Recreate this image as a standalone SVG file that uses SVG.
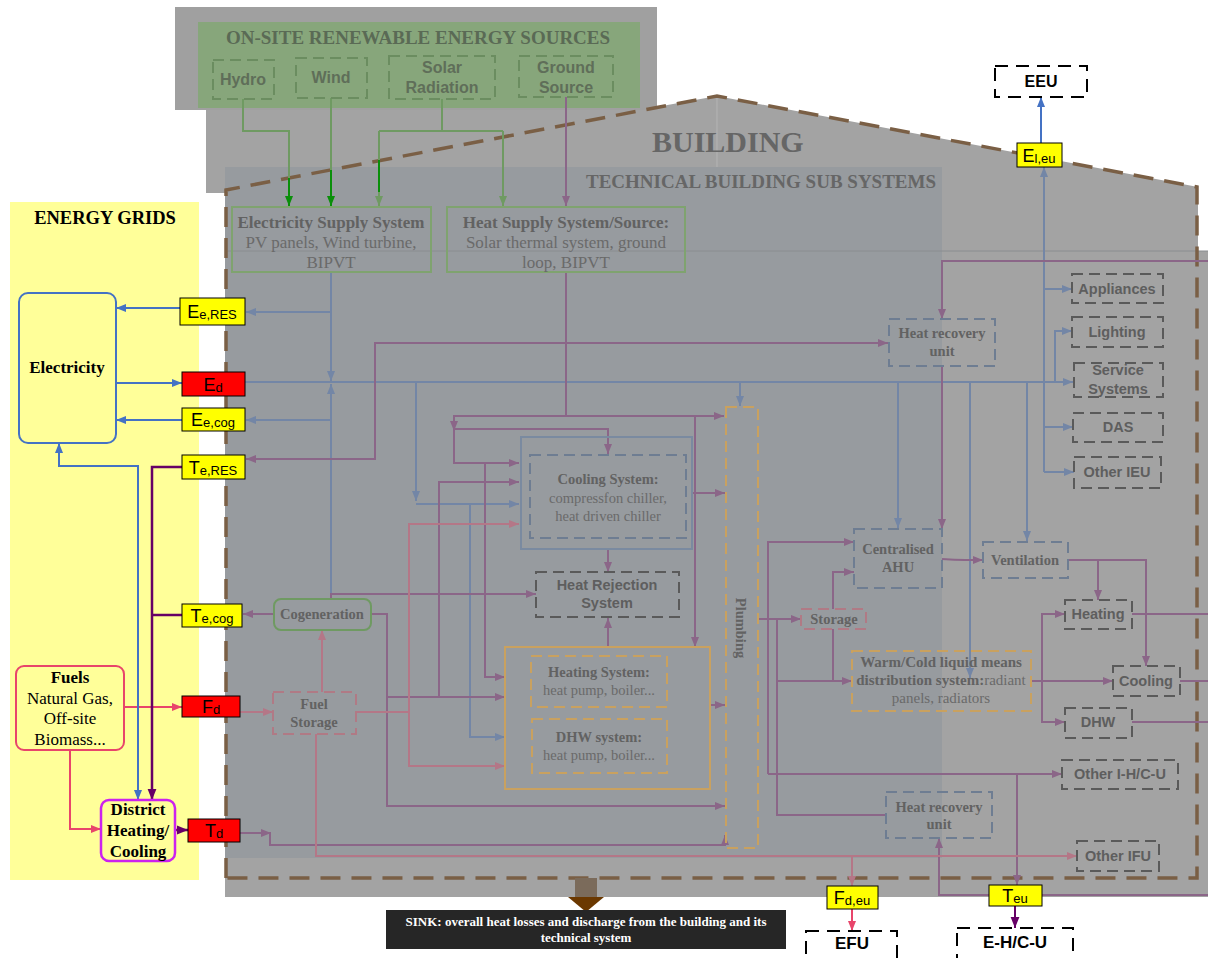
<svg xmlns="http://www.w3.org/2000/svg" width="1208" height="958" viewBox="0 0 1208 958">
<defs>
<style>
.c path{fill:none;stroke-width:2}
.b{stroke:#7386a6}.p{stroke:#8b6688}.k{stroke:#b47787}.g{stroke:#6f9a62}
.bb{stroke:#4472c4}.pd{stroke:#660066}.kb{stroke:#e8456b}.gb{stroke:#0a8f0a}
.sf{font-family:"Liberation Serif","Times New Roman",serif}
.ss{font-family:"Liberation Sans",Arial,sans-serif}
.t{fill:#626262;font-weight:bold;font-size:14.5px;text-anchor:middle;font-family:"Liberation Serif","Times New Roman",serif}
.tr{fill:#6a6a6a;font-size:14.5px;text-anchor:middle;font-family:"Liberation Serif","Times New Roman",serif}
.ts{fill:#5e5e5e;font-weight:bold;font-size:14.5px;text-anchor:middle;font-family:"Liberation Sans",Arial,sans-serif}
.tg{fill:#5f6e59;font-weight:bold;font-size:16px;text-anchor:middle;font-family:"Liberation Sans",Arial,sans-serif}
.dg{fill:none;stroke:#5a5a5a;stroke-width:2;stroke-dasharray:11,6}
.dbl{fill:none;stroke:#6e7d92;stroke-width:2;stroke-dasharray:11,6}
.dor{fill:none;stroke:#c9a15f;stroke-width:2;stroke-dasharray:11,6}
.dpk{fill:none;stroke:#b07a85;stroke-width:2;stroke-dasharray:11,6}
.dgr{fill:none;stroke:#6b8d60;stroke-width:2;stroke-dasharray:11,6}
.dk{fill:none;stroke:#000;stroke-width:2;stroke-dasharray:13,8}
.lab{font-family:"Liberation Sans",Arial,sans-serif;font-size:18px;fill:#000;text-anchor:middle}
.ly{fill:#ffff00;stroke:#000;stroke-width:1}
.lr{fill:#ff0000;stroke:#000;stroke-width:1}
.tk{fill:#000;font-weight:bold;font-size:17px;text-anchor:middle;font-family:"Liberation Serif","Times New Roman",serif}
.tkr{fill:#000;font-size:17px;text-anchor:middle;font-family:"Liberation Serif","Times New Roman",serif}
.tks{fill:#000;font-weight:bold;font-size:17px;text-anchor:middle;font-family:"Liberation Sans",Arial,sans-serif}
.f17{font-size:17px}
.f15{font-size:15px}
</style>
<marker id="aB" viewBox="0 0 10 10" refX="10" refY="5" markerWidth="10" markerHeight="10" markerUnits="userSpaceOnUse" orient="auto-start-reverse"><path d="M0,1L10,5L0,9z" fill="#7386a6"/></marker>
<marker id="aP" viewBox="0 0 10 10" refX="10" refY="5" markerWidth="10" markerHeight="10" markerUnits="userSpaceOnUse" orient="auto-start-reverse"><path d="M0,1L10,5L0,9z" fill="#8b6688"/></marker>
<marker id="aK" viewBox="0 0 10 10" refX="10" refY="5" markerWidth="10" markerHeight="10" markerUnits="userSpaceOnUse" orient="auto-start-reverse"><path d="M0,1L10,5L0,9z" fill="#b47787"/></marker>
<marker id="aG" viewBox="0 0 10 10" refX="10" refY="5" markerWidth="10" markerHeight="10" markerUnits="userSpaceOnUse" orient="auto-start-reverse"><path d="M0,1L10,5L0,9z" fill="#6f9a62"/></marker>
<marker id="aBB" viewBox="0 0 10 10" refX="10" refY="5" markerWidth="10" markerHeight="10" markerUnits="userSpaceOnUse" orient="auto-start-reverse"><path d="M0,1L10,5L0,9z" fill="#4472c4"/></marker>
<marker id="aPD" viewBox="0 0 10 10" refX="10" refY="5" markerWidth="11" markerHeight="11" markerUnits="userSpaceOnUse" orient="auto-start-reverse"><path d="M0,1L10,5L0,9z" fill="#660066"/></marker>
<marker id="aKB" viewBox="0 0 10 10" refX="10" refY="5" markerWidth="10" markerHeight="10" markerUnits="userSpaceOnUse" orient="auto-start-reverse"><path d="M0,1L10,5L0,9z" fill="#e8456b"/></marker>
<marker id="aGB" viewBox="0 0 10 10" refX="10" refY="5" markerWidth="10" markerHeight="10" markerUnits="userSpaceOnUse" orient="auto-start-reverse"><path d="M0,1L10,5L0,9z" fill="#0a8f0a"/></marker>
</defs>

<g id="background">
<rect x="0" y="0" width="1208" height="958" fill="#ffffff"/>
<rect x="10" y="202" width="189" height="678" fill="#ffff99"/>
<polygon points="206,110 640,110 717,96 1198,187 1198,251 1208,251 1208,897 225,897 225,193 206,193" fill="#a3a3a3"/>
<rect x="175" y="7" width="482" height="103" fill="#a0a0a0"/>
<rect x="198" y="22" width="442" height="86" fill="#87a67b"/>
<rect x="225" y="167" width="717" height="691" fill="#979b9f"/>
<line x1="225" y1="251" x2="1208" y2="251" stroke="#8a8d90" stroke-width="1"/>
<line x1="717" y1="97" x2="717" y2="167" stroke="#b4b4b4" stroke-width="1"/>
<path d="M226,878 V190 L717,96 L1197,187 V878 Z" fill="none" stroke="#7a5f45" stroke-width="3.5" stroke-dasharray="20,11"/>
<text x="418" y="44" class="sf" font-size="19" font-weight="bold" fill="#5a6a55" text-anchor="middle">ON-SITE RENEWABLE ENERGY SOURCES</text>
<text x="652" y="152" class="sf" font-size="30" font-weight="bold" fill="#666666">BUILDING</text>
<text x="586" y="188" class="sf" font-size="19" font-weight="bold" fill="#666666">TECHNICAL BUILDING SUB SYSTEMS</text>
<text x="105" y="224" class="sf" font-size="18.5" font-weight="bold" fill="#000" text-anchor="middle">ENERGY GRIDS</text>
</g>

<g id="connectors" class="c">
<path class="g" d="M243,99 V131 H289 V178"/>
<path class="gb" d="M289,178 V206" marker-end="url(#aGB)"/>
<path class="g" d="M331,98 V170"/>
<path class="gb" d="M331,170 V206" marker-end="url(#aGB)"/>
<path class="g" d="M442,99 V131 M379,131 H503"/>
<path class="g" d="M379,131 V206" marker-end="url(#aG)"/>
<path class="gb" d="M379,160 V192"/>
<path class="g" d="M503,131 V206" marker-end="url(#aG)"/>
<path class="p" d="M566,97 V206" marker-end="url(#aP)"/>
<path class="b" d="M331,272 V381" marker-end="url(#aB)"/>
<path class="b" d="M331,312 H246" marker-end="url(#aB)"/>
<path class="b" d="M331,599 V384" marker-end="url(#aB)"/>
<path class="b" d="M331,420 H246" marker-end="url(#aB)"/>
<path class="b" d="M245,382 H1073" marker-end="url(#aB)"/>
<path class="b" d="M416,382 V501" marker-end="url(#aB)"/>
<path class="b" d="M416,504 H519" marker-end="url(#aB)"/>
<path class="b" d="M470,504 V737 H505" marker-end="url(#aB)"/>
<path class="b" d="M740,382 V406" marker-end="url(#aB)"/>
<path class="b" d="M898,382 V528" marker-end="url(#aB)"/>
<path class="b" d="M970,382 V678" marker-end="url(#aB)"/>
<path class="b" d="M1027,382 V541" marker-end="url(#aB)"/>
<path class="b" d="M1055,382 V331 H1072" marker-end="url(#aB)"/>
<path class="b" d="M1044,472 V167" marker-end="url(#aB)"/>
<path class="b" d="M1044,289 H1072" marker-end="url(#aB)"/>
<path class="b" d="M1044,427 H1073" marker-end="url(#aB)"/>
<path class="b" d="M1044,472 H1074" marker-end="url(#aB)"/>
<path class="bb" d="M1041,143 V97" marker-end="url(#aBB)"/>
<path class="p" d="M566,272 V416 H724" marker-end="url(#aP)"/>
<path class="p" d="M566,343 H888" marker-end="url(#aP)"/>
<path class="p" d="M566,343 H375 V459 H246" marker-end="url(#aP)"/>
<path class="p" d="M566,416 H454 V463 H519" marker-end="url(#aP)"/>
<path class="p" d="M454,416 V431" marker-end="url(#aP)"/>
<path class="p" d="M454,429 H608 V454" marker-end="url(#aP)"/>
<path class="p" d="M485,463 V677 H505" marker-end="url(#aP)"/>
<path class="p" d="M695,416 V647" marker-end="url(#aP)"/>
<path class="p" d="M693,493 H725" marker-end="url(#aP)"/>
<path class="p" d="M371,614 H387 V806 H725" marker-end="url(#aP)"/>
<path class="p" d="M387,697 H505" marker-end="url(#aP)"/>
<path class="p" d="M439,697 V482 H519" marker-end="url(#aP)"/>
<path class="p" d="M331,599 V594 H536" marker-end="url(#aP)"/>
<path class="p" d="M274,614 H243" marker-end="url(#aP)"/>
<path class="p" d="M608,549 V572" marker-end="url(#aP)"/>
<path class="p" d="M608,647 V618" marker-end="url(#aP)"/>
<path class="p" d="M710,705 H725" marker-end="url(#aP)"/>
<path class="p" d="M240,833 H271" marker-end="url(#aP)"/>
<path class="p" d="M270,833 V845 H725 V835" marker-end="url(#aP)"/>
<path class="p" d="M1208,261 H942 V319" marker-end="url(#aP)"/>
<path class="p" d="M942,366 V529" marker-end="url(#aP)"/>
<path class="p" d="M942,559 Q955,560 965,560 H983" marker-end="url(#aP)"/>
<path class="p" d="M1068,560 H1146 V666" marker-end="url(#aP)"/>
<path class="p" d="M1098,560 V600" marker-end="url(#aP)"/>
<path class="p" d="M758,619 H801" marker-end="url(#aP)"/>
<path class="p" d="M768,774 V542 H854" marker-end="url(#aP)"/>
<path class="p" d="M768,774 H1062" marker-end="url(#aP)"/>
<path class="p" d="M777,619 V815 H887"/>
<path class="p" d="M777,681 H852" marker-end="url(#aP)"/>
<path class="p" d="M833,609 V572 H854" marker-end="url(#aP)"/>
<path class="p" d="M833,629 V681"/>
<path class="p" d="M1031,681 H1113" marker-end="url(#aP)"/>
<path class="p" d="M1042,681 V614 H1065" marker-end="url(#aP)"/>
<path class="p" d="M1042,681 V722 H1065" marker-end="url(#aP)"/>
<path class="p" d="M1132,614 H1208 M1180,681 H1208 M1132,722 H1208"/>
<path class="p" d="M1017,774 V885" marker-end="url(#aP)"/>
<path class="p" d="M1208,895 H939 V838" marker-end="url(#aP)"/>
<path class="pd" d="M1015,906 V928" marker-end="url(#aPD)"/>
<path class="kb" d="M124,707 H182" marker-end="url(#aKB)"/>
<path class="k" d="M240,712 H273" marker-end="url(#aK)"/>
<path class="k" d="M322,692 V630" marker-end="url(#aK)"/>
<path class="k" d="M355,712 H409 V524 H519" marker-end="url(#aK)"/>
<path class="k" d="M409,712 V766 H505" marker-end="url(#aK)"/>
<path class="k" d="M316,734 V856 H1077" marker-end="url(#aK)"/>
<path class="k" d="M852,856 V886" marker-end="url(#aK)"/>
<path class="kb" d="M852,909 V931" marker-end="url(#aKB)"/>
<path class="bb" d="M180,308 H116" marker-end="url(#aBB)"/>
<path class="bb" d="M116,383 H182" marker-end="url(#aBB)"/>
<path class="bb" d="M182,420 H116" marker-end="url(#aBB)"/>
<path class="bb" d="M59,443 V466 H138 V800" marker-start="url(#aBB)" marker-end="url(#aBB)"/>
<path class="pd" style="stroke-width:2.5" d="M182,467 H152 V800" marker-end="url(#aPD)"/>
<path class="pd" style="stroke-width:2.5" d="M182,615 H152"/>
<path class="kb" d="M70,750 V829 H101" marker-end="url(#aKB)"/>
<path class="pd" style="stroke-width:2.5" d="M175,830 H188" marker-end="url(#aPD)"/>
</g>

<g id="hydro"><rect x="213" y="60" width="61" height="39" class="dgr"/><text x="243" y="85" class="tg">Hydro</text></g>
<g id="wind"><rect x="296" y="58" width="71" height="40" class="dgr"/><text x="331" y="83" class="tg">Wind</text></g>
<g id="solar"><rect x="389" y="56" width="106" height="43" class="dgr"/><text x="442" y="73" class="tg">Solar</text><text x="442" y="93" class="tg">Radiation</text></g>
<g id="ground"><rect x="519" y="56" width="94" height="41" class="dgr"/><text x="566" y="73" class="tg">Ground</text><text x="566" y="93" class="tg">Source</text></g>

<g id="electricity-supply"><rect x="232" y="207" width="199" height="65" fill="none" stroke="#7fa36f" stroke-width="2"/>
<text x="331" y="228" class="t f17">Electricity Supply System</text>
<text x="331" y="248" class="tr f17">PV panels, Wind turbine,</text>
<text x="331" y="268" class="tr f17">BIPVT</text></g>
<g id="heat-supply"><rect x="447" y="207" width="238" height="65" fill="none" stroke="#7fa36f" stroke-width="2"/>
<text x="566" y="228" class="t f17">Heat Supply System/Source:</text>
<text x="566" y="248" class="tr f17">Solar thermal system, ground</text>
<text x="566" y="268" class="tr f17">loop, BIPVT</text></g>

<g id="electricity"><rect x="19" y="293" width="97" height="150" rx="9" fill="none" stroke="#4472c4" stroke-width="2"/><text x="67" y="373" class="tk">Electricity</text></g>
<g id="fuels"><rect x="16" y="666" width="108" height="84" rx="8" fill="none" stroke="#e8456b" stroke-width="2"/>
<text x="70" y="683" class="tk">Fuels</text><text x="70" y="704" class="tkr">Natural Gas,</text><text x="70" y="724" class="tkr">Off-site</text><text x="70" y="745" class="tkr">Biomass...</text></g>
<g id="district"><rect x="101" y="800" width="74" height="61" rx="8" fill="none" stroke="#cc22ee" stroke-width="2.5"/>
<text x="138" y="815" class="tk">District</text><text x="138" y="836" class="tk">Heating/</text><text x="138" y="857" class="tk">Cooling</text></g>

<g id="cogeneration"><rect x="274" y="599" width="97" height="31" rx="7" fill="none" stroke="#6f9a62" stroke-width="2"/><text x="322" y="619" class="t">Cogeneration</text></g>
<g id="fuel-storage"><rect x="273" y="692" width="83" height="42" class="dpk"/><text x="314" y="709" class="t">Fuel</text><text x="314" y="727" class="t">Storage</text></g>
<g id="cooling-system"><rect x="521" y="437" width="171" height="112" fill="none" stroke="#7a8aa0" stroke-width="2"/><rect x="530" y="455" width="156" height="83" class="dbl"/>
<text x="608" y="484" class="t">Cooling System:</text><text x="608" y="503" class="tr">compressfon chiller,</text><text x="608" y="521" class="tr">heat driven chiller</text></g>
<g id="heat-rejection"><rect x="536" y="572" width="143" height="45" class="dg"/><text x="607" y="590" class="ts">Heat Rejection</text><text x="607" y="608" class="ts">System</text></g>
<g id="heating-dhw"><rect x="505" y="647" width="205" height="142" fill="none" stroke="#c9a15f" stroke-width="2"/>
<rect x="531" y="656" width="136" height="51" class="dor"/><text x="599" y="677" class="t">Heating System:</text><text x="599" y="695" class="tr">heat pump, boiler...</text>
<rect x="532" y="719" width="135" height="54" class="dor"/><text x="599" y="742" class="t">DHW system:</text><text x="599" y="760" class="tr">heat pump, boiler...</text></g>
<g id="plumbing"><rect x="726" y="407" width="32" height="441" class="dor"/><text x="741" y="628" class="t" transform="rotate(90 741 628)" dy="5">Plumbing</text></g>
<g id="hru-top"><rect x="889" y="319" width="106" height="47" class="dbl"/><text x="942" y="338" class="t">Heat recovery</text><text x="942" y="356" class="t">unit</text></g>
<g id="hru-bottom"><rect x="886" y="792" width="106" height="46" class="dbl"/><text x="939" y="812" class="t">Heat recovery</text><text x="939" y="829" class="t">unit</text></g>
<g id="ahu"><rect x="854" y="529" width="88" height="59" class="dbl"/><text x="898" y="554" class="t">Centralised</text><text x="898" y="572" class="t">AHU</text></g>
<g id="ventilation"><rect x="983" y="542" width="85" height="36" class="dbl"/><text x="1025" y="565" class="t">Ventilation</text></g>
<g id="storage"><rect x="801" y="609" width="65" height="20" class="dpk"/><text x="834" y="624" class="t">Storage</text></g>
<g id="warm-cold"><rect x="852" y="651" width="179" height="60" class="dor"/>
<text x="941" y="667" class="t f15">Warm/Cold liquid means</text>
<text x="941" y="685" class="t f15">distribution system:<tspan font-weight="normal" fill="#6a6a6a">radiant</tspan></text>
<text x="941" y="703" class="tr f15">panels, radiators</text></g>
<g id="heating-r"><rect x="1065" y="600" width="67" height="29" class="dg"/><text x="1098" y="619" class="ts">Heating</text></g>
<g id="cooling-r"><rect x="1113" y="666" width="67" height="30" class="dg"/><text x="1146" y="686" class="ts">Cooling</text></g>
<g id="dhw-r"><rect x="1065" y="708" width="67" height="30" class="dg"/><text x="1098" y="727" class="ts">DHW</text></g>
<g id="other-ihcu"><rect x="1062" y="760" width="116" height="29" class="dg"/><text x="1120" y="779" class="ts">Other I-H/C-U</text></g>
<g id="other-ifu"><rect x="1077" y="841" width="82" height="30" class="dg"/><text x="1118" y="861" class="ts">Other IFU</text></g>
<g id="appliances"><rect x="1072" y="274" width="91" height="29" class="dg"/><text x="1117" y="294" class="ts">Appliances</text></g>
<g id="lighting"><rect x="1072" y="317" width="91" height="30" class="dg"/><text x="1117" y="337" class="ts">Lighting</text></g>
<g id="service"><rect x="1074" y="363" width="89" height="34" class="dg"/><text x="1118" y="375" class="ts">Service</text><text x="1118" y="394" class="ts">Systems</text></g>
<g id="das"><rect x="1073" y="413" width="90" height="29" class="dg"/><text x="1118" y="432" class="ts">DAS</text></g>
<g id="other-ieu"><rect x="1074" y="457" width="87" height="31" class="dg"/><text x="1117" y="477" class="ts">Other IEU</text></g>

<g id="eeu"><rect x="995" y="66" width="92" height="31" class="dk"/><text x="1041" y="87" class="tks" style="font-size:16px">EEU</text></g>
<g id="efu"><rect x="806" y="931" width="91" height="36" class="dk"/><text x="852" y="949" class="tks">EFU</text></g>
<g id="ehcu"><rect x="957" y="928" width="116" height="40" class="dk"/><text x="1015" y="948" class="tks">E-H/C-U</text></g>

<g id="sink">
<rect x="575" y="878" width="22" height="20" fill="#7b6b5b"/>
<polygon points="568,897 604,897 586,912" fill="#6b3800"/>
<rect x="386" y="910" width="400" height="39" fill="#262626"/>
<text x="586" y="926" class="sf" font-size="13" font-weight="bold" fill="#fff" text-anchor="middle">SINK: overall heat losses and discharge from the building and its</text>
<text x="586" y="942" class="sf" font-size="13" font-weight="bold" fill="#fff" text-anchor="middle">technical system</text>
</g>

<g id="labels">
<g id="l-eeres"><rect x="180" y="298" width="65" height="27" class="ly"/><text x="212" y="318" class="lab">E<tspan font-size="13" dy="1">e,RES</tspan></text></g>
<g id="l-ed"><rect x="182" y="372" width="63" height="24" class="lr"/><text x="213" y="391" class="lab">E<tspan font-size="13" dy="1">d</tspan></text></g>
<g id="l-eecog"><rect x="182" y="408" width="63" height="23" class="ly"/><text x="213" y="426" class="lab">E<tspan font-size="13" dy="1">e,cog</tspan></text></g>
<g id="l-teres"><rect x="182" y="455" width="63" height="24" class="ly"/><text x="213" y="474" class="lab">T<tspan font-size="13" dy="1">e,RES</tspan></text></g>
<g id="l-tecog"><rect x="182" y="604" width="60" height="23" class="ly"/><text x="212" y="622" class="lab">T<tspan font-size="13" dy="1">e,cog</tspan></text></g>
<g id="l-fd"><rect x="182" y="696" width="58" height="21" class="lr"/><text x="211" y="713" class="lab">F<tspan font-size="13" dy="1">d</tspan></text></g>
<g id="l-td"><rect x="188" y="819" width="52" height="23" class="lr"/><text x="214" y="837" class="lab">T<tspan font-size="13" dy="1">d</tspan></text></g>
<g id="l-eleu"><rect x="1017" y="143" width="45" height="24" class="ly"/><text x="1039" y="162" class="lab">E<tspan font-size="13" dy="1">l,eu</tspan></text></g>
<g id="l-fdeu"><rect x="827" y="886" width="51" height="23" class="ly"/><text x="852" y="904" class="lab">F<tspan font-size="13" dy="1">d,eu</tspan></text></g>
<g id="l-teu"><rect x="989" y="885" width="53" height="21" class="ly"/><text x="1015" y="902" class="lab">T<tspan font-size="13" dy="1">eu</tspan></text></g>
</g>
</svg>
